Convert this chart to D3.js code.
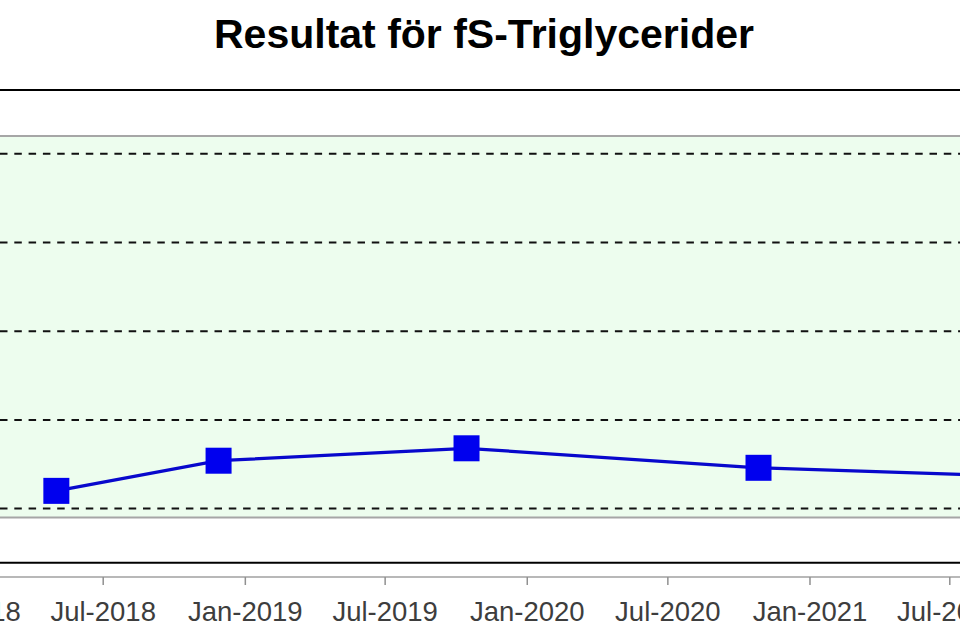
<!DOCTYPE html>
<html>
<head>
<meta charset="utf-8">
<script src="https://cdn.jsdelivr.net/npm/d3@7"></script>
<style>
  html, body { margin: 0; padding: 0; background: #ffffff; overflow: hidden; }
  svg { display: block; font-family: "Liberation Sans", Arial, sans-serif; }
</style>
</head>
<body>
<svg id="chart" width="960" height="640"></svg>
<script>
// ---- data ----
const titleText = "Resultat för fS-Triglycerider";
const sampleDates = ["2018-05-02", "2018-11-28", "2019-10-15", "2020-10-27", "2021-10-19"];
const sampleValues = [0.60, 0.77, 0.84, 0.73, 0.68];
const refRange = [0.45, 2.6];
const gridValues = [0.5, 1.0, 1.5, 2.0, 2.5];
const tickDates = ["2018-01-01", "2018-07-01", "2019-01-01", "2019-07-01", "2020-01-01",
                   "2020-07-01", "2021-01-01", "2021-07-01", "2022-01-01"];
const yDomain = [0.195, 2.86];

const parse = d3.timeParse("%Y-%m-%d");
const fmt = d3.timeFormat("%b-%Y");

const svg = d3.select("#chart");
const W = 960, H = 640;

const x = d3.scaleTime()
  .domain([parse("2018-07-01"), parse("2021-07-01")])
  .range([102.7, 949.3]);
const y = d3.scaleLinear().domain(yDomain).range([562.7, 90]);

const left = -100, right = W + 100;

// title
svg.append("text")
  .attr("x", 484).attr("y", 48)
  .attr("text-anchor", "middle")
  .attr("font-size", 41).attr("font-weight", "bold")
  .attr("fill", "#000")
  .text(titleText);

// reference band
svg.append("rect")
  .attr("x", left).attr("width", right - left)
  .attr("y", y(refRange[1])).attr("height", y(refRange[0]) - y(refRange[1]))
  .attr("fill", "#edfdee");
svg.selectAll("line.band").data(refRange).join("line")
  .attr("class", "band")
  .attr("x1", left).attr("x2", right)
  .attr("y1", d => y(d)).attr("y2", d => y(d))
  .attr("stroke", "#a6a6a6").attr("stroke-width", 2);

// dashed grid
svg.selectAll("line.grid").data(gridValues).join("line")
  .attr("class", "grid")
  .attr("x1", 0).attr("x2", right)
  .attr("y1", d => y(d)).attr("y2", d => y(d))
  .attr("stroke", "#111").attr("stroke-width", 2)
  .attr("stroke-dasharray", "7.5,6.8");

// panel frame lines
svg.selectAll("line.frame").data(yDomain).join("line")
  .attr("class", "frame")
  .attr("x1", left).attr("x2", right)
  .attr("y1", d => y(d)).attr("y2", d => y(d))
  .attr("stroke", "#000").attr("stroke-width", 2);

// series
const pts = sampleDates.map((d, i) => ({ date: parse(d), value: sampleValues[i] }));
svg.append("path")
  .datum(pts)
  .attr("fill", "none")
  .attr("stroke", "#0808cc")
  .attr("stroke-width", 3.2)
  .attr("d", d3.line().x(d => x(d.date)).y(d => y(d.value)));
const S = 26;
svg.selectAll("rect.pt").data(pts).join("rect")
  .attr("class", "pt")
  .attr("x", d => x(d.date) - S / 2).attr("y", d => y(d.value) - S / 2)
  .attr("width", S).attr("height", S)
  .attr("fill", "#0000ee");

// x axis
const axisY = 577;
svg.append("line")
  .attr("x1", left).attr("x2", right)
  .attr("y1", axisY).attr("y2", axisY)
  .attr("stroke", "#a0a0a0").attr("stroke-width", 1.5);
const ax = svg.append("g")
  .attr("transform", `translate(0,${axisY})`)
  .call(d3.axisBottom(x)
    .tickValues(tickDates.map(parse))
    .tickFormat(fmt)
    .tickSize(8)
    .tickPadding(16));
ax.select(".domain").remove();
ax.selectAll(".tick line").attr("stroke", "#909090").attr("stroke-width", 1.5);
ax.selectAll(".tick text")
  .attr("font-size", 27.5)
  .attr("font-family", "Liberation Sans, Arial, sans-serif")
  .attr("fill", "#3d3d3d");
</script>
</body>
</html>
